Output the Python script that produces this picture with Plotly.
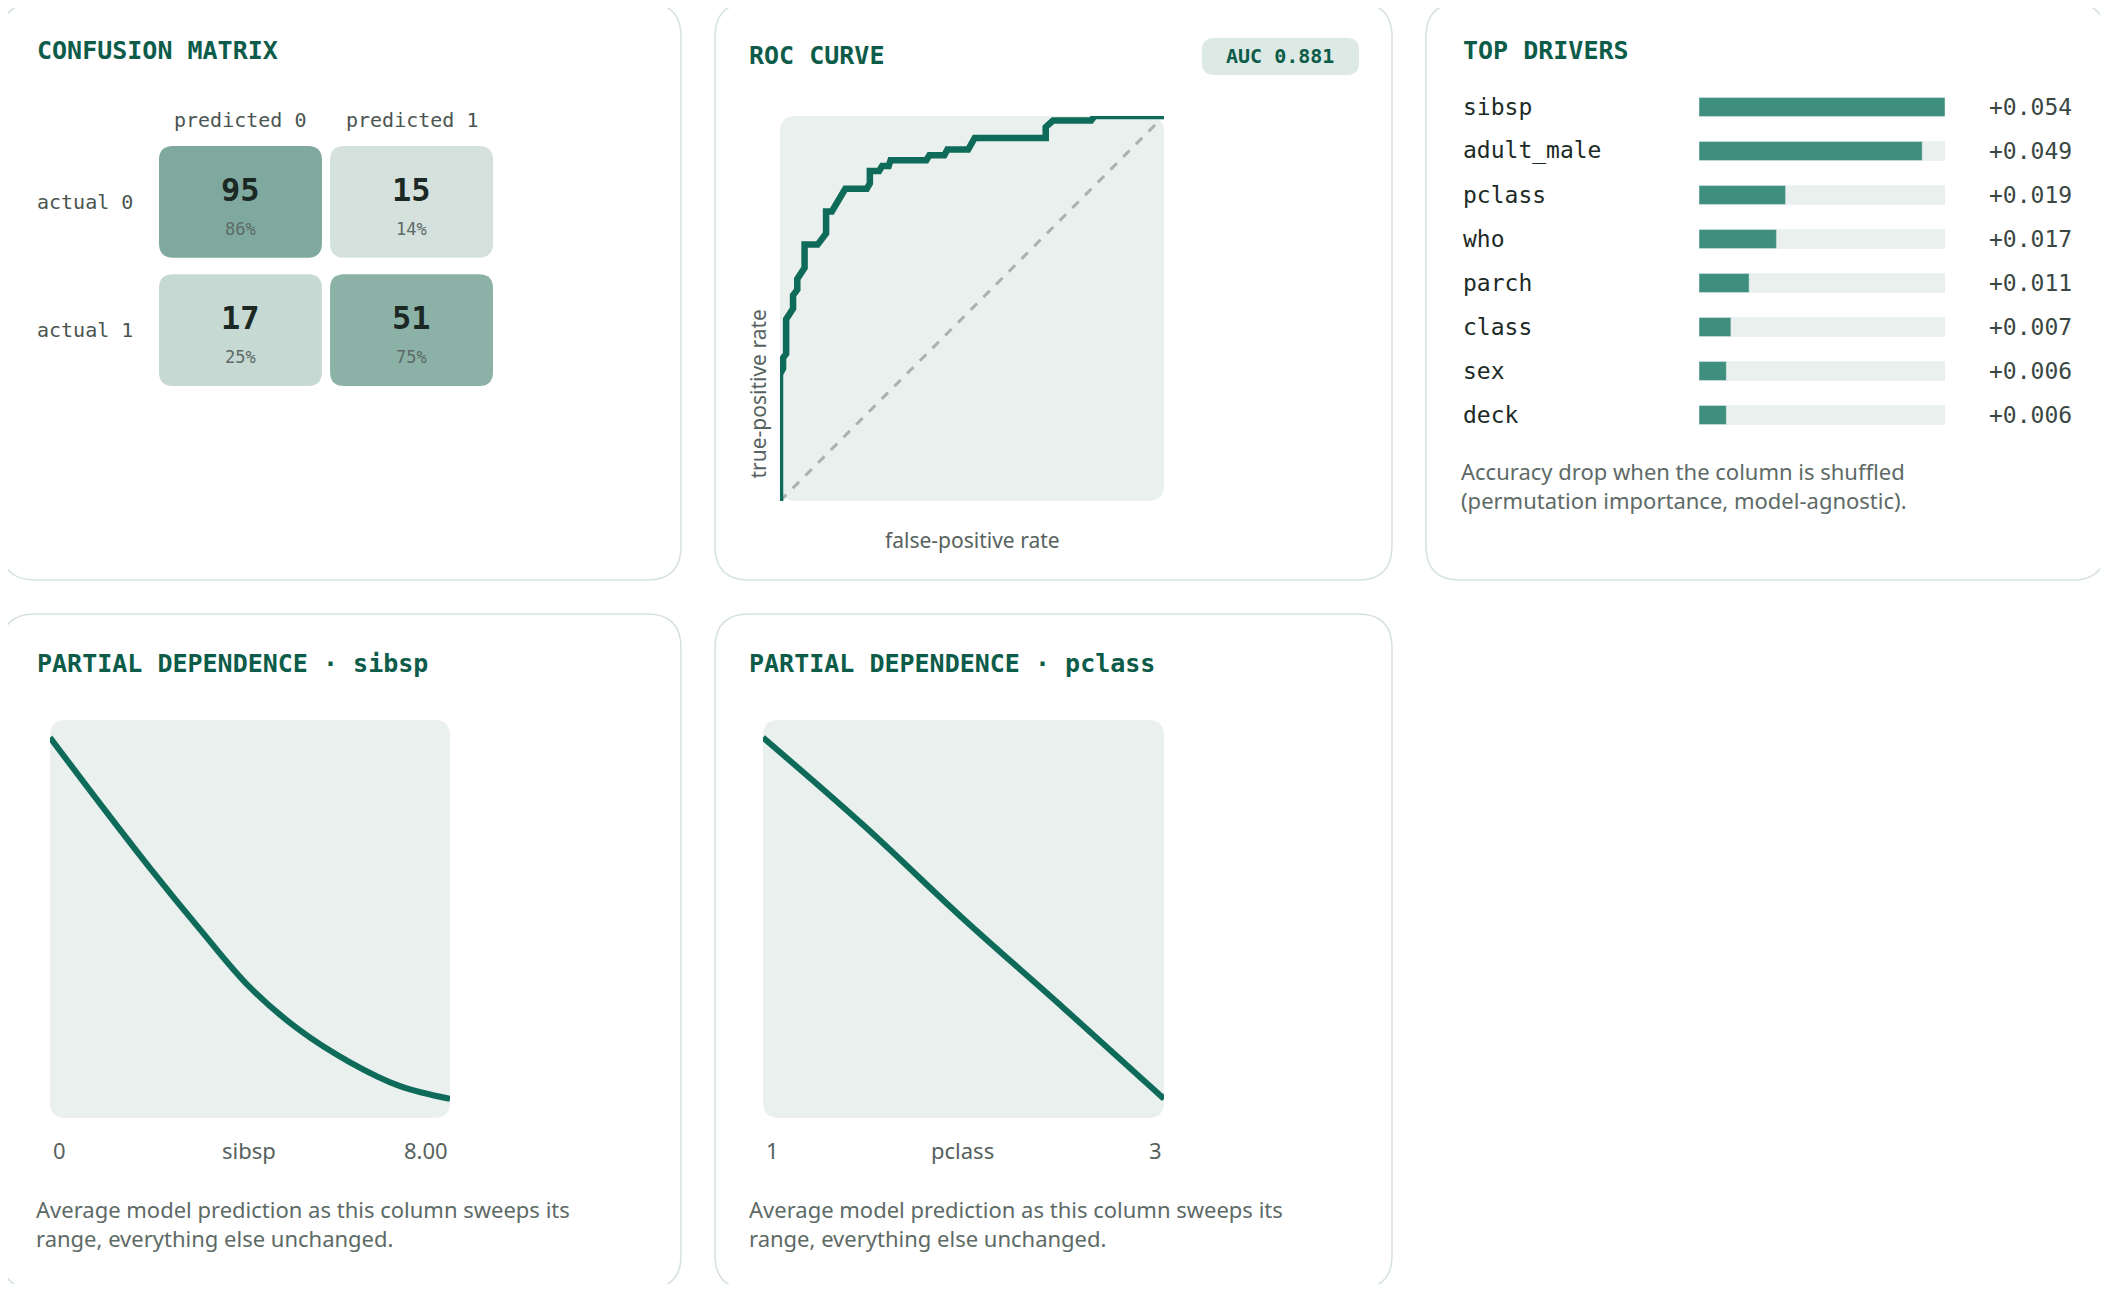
import plotly.graph_objects as go

W, H = 2108, 1292
OFF = 8  # page body margin
FW, FH = W - 2 * OFF, H - 2 * OFF

# ---- data ----
cm_rows = ["actual 0", "actual 1"]
cm_cols = ["predicted 0", "predicted 1"]
cm_counts = [[95, 15], [17, 51]]

roc_fpr = [0, 0, 0.008, 0.008, 0.016, 0.016, 0.034, 0.034, 0.045, 0.045, 0.064, 0.064,
           0.098, 0.12, 0.12, 0.135, 0.17, 0.226, 0.234, 0.234, 0.258, 0.266, 0.283,
           0.288, 0.381, 0.389, 0.428, 0.436, 0.49, 0.507, 0.692, 0.692, 0.711, 0.81,
           0.819, 1.0]
roc_tpr = [0, 0.329, 0.344, 0.372, 0.382, 0.472, 0.5, 0.534, 0.549, 0.577, 0.606, 0.666,
           0.666, 0.695, 0.752, 0.752, 0.811, 0.811, 0.825, 0.857, 0.857, 0.870, 0.870,
           0.885, 0.885, 0.898, 0.898, 0.913, 0.913, 0.943, 0.943, 0.971, 0.988, 0.988,
           1.0, 1.0]
auc = 0.881

drivers = ["sibsp", "adult_male", "pclass", "who", "parch", "class", "sex", "deck"]
importance = [0.054, 0.049, 0.019, 0.017, 0.011, 0.007, 0.006, 0.006]

pd_sibsp_x = [0, 1, 2, 3, 4, 5, 6, 7, 8]
pd_sibsp_y = [0.578, 0.495, 0.414, 0.337, 0.264, 0.210, 0.170, 0.140, 0.124]
pd_pclass_x = [1, 1.5, 2, 2.5, 3]
pd_pclass_y = [0.578, 0.468, 0.350, 0.238, 0.124]

# ---- style ----
TEAL = "#0e6b5a"
TITLE_C = "#0d5c4a"
BAR_C = "#3f8f7e"
PANEL = "#eaf0ed"
MUTED = "#56625e"
MONO = "DejaVu Sans Mono"
SANS = "Noto Sans"


def X(px):
    return (px - OFF) / FW


def Y(py):
    return 1 - (py - OFF) / FH


def rpath(x0, x1, y0, y1, rx, ry):
    # rounded rectangle, y0 < y1 in the given units
    return (f"M{x0+rx},{y0} L{x1-rx},{y0} Q{x1},{y0} {x1},{y0+ry} "
            f"L{x1},{y1-ry} Q{x1},{y1} {x1-rx},{y1} L{x0+rx},{y1} "
            f"Q{x0},{y1} {x0},{y1-ry} L{x0},{y0+ry} Q{x0},{y0} {x0+rx},{y0} Z")


def paper_rect(l, t, r, b, rad, fill, line=None):
    return dict(type="path", xref="paper", yref="paper", layer="below",
                path=rpath(X(l), X(r), Y(b), Y(t), rad / FW, rad / FH),
                fillcolor=fill, line=dict(color=line or fill, width=1.5 if line else 0))


fig = go.Figure()
shapes = []
ann = []


def text(x, y, s, size, color, font=SANS, xanchor="left", **kw):
    ann.append(dict(xref="paper", yref="paper", x=X(x), y=Y(y), text=s, showarrow=False,
                    xanchor=xanchor, yanchor="middle",
                    font=dict(family=font, size=size, color=color), **kw))


# cards
for l, t, r, b in [(1, 3, 681, 580), (715, 3, 1392, 580), (1426, 3, 2106, 580),
                   (1, 614, 681, 1289), (715, 614, 1392, 1289)]:
    shapes.append(paper_rect(l, t, r, b, 34, "white", "#d6e2de"))

# plot panels
shapes.append(paper_rect(780, 116, 1164, 501, 16, PANEL))
shapes.append(paper_rect(50, 720, 450, 1118, 16, PANEL))
shapes.append(paper_rect(763, 720, 1164, 1118, 16, PANEL))

# titles
TS = 25
text(35, 51, "<b>CONFUSION MATRIX</b>", TS, TITLE_C, MONO)
text(747, 55, "<b>ROC CURVE</b>", TS, TITLE_C, MONO)
text(1461, 51, "<b>TOP DRIVERS</b>", TS, TITLE_C, MONO)
text(35, 663, "<b>PARTIAL DEPENDENCE · sibsp</b>", TS, TITLE_C, MONO)
text(747, 663, "<b>PARTIAL DEPENDENCE · pclass</b>", TS, TITLE_C, MONO)


# ---- confusion matrix (axis x / y) ----
def lerp_col(t):
    a, b = (228, 236, 233), (127, 169, 158)
    return "rgb(%d,%d,%d)" % tuple(round(a[i] + (b[i] - a[i]) * t) for i in range(3))


STEP_X, STEP_Y = 1.05, 1.15
rx, ry = 14 / 163, 14 / 111.6
for i, row in enumerate(cm_counts):
    tot = sum(row)
    for j, v in enumerate(row):
        share = v / tot
        x0, y0 = j * STEP_X, i * STEP_Y
        shapes.append(dict(type="path", xref="x", yref="y", layer="below",
                           path=rpath(x0, x0 + 1, y0, y0 + 1, rx, ry),
                           fillcolor=lerp_col(share / 0.86), line=dict(width=0)))
        ann.append(dict(xref="x", yref="y", x=x0 + 0.5, y=y0 + 0.5, text=f"<b>{v}</b>",
                        showarrow=False, yshift=12,
                        font=dict(family=MONO, size=32, color="#1b2824")))
        ann.append(dict(xref="x", yref="y", x=x0 + 0.5, y=y0 + 0.5, text=f"{share:.0%}",
                        showarrow=False, yshift=-27,
                        font=dict(family=MONO, size=17, color="#5d6a66")))
for j, c in enumerate(cm_cols):
    ann.append(dict(xref="x", yref="paper", x=j * STEP_X + 0.5, y=Y(106), text=c,
                    showarrow=False, font=dict(family=MONO, size=20, color="#4a5551")))
for i, r in enumerate(cm_rows):
    ann.append(dict(xref="paper", yref="y", x=X(35), y=i * STEP_Y + 0.5, text=r,
                    xanchor="left", showarrow=False,
                    font=dict(family=MONO, size=20, color="#4a5551")))
fig.add_trace(go.Scatter(x=[0, 2.05], y=[0, 2.15], mode="markers",
                         marker=dict(opacity=0), hoverinfo="skip", xaxis="x", yaxis="y"))

# ---- ROC (x2 / y2) ----
fig.add_trace(go.Scatter(x=[0, 1], y=[0, 1], mode="lines", xaxis="x2", yaxis="y2",
                         line=dict(color="#aab1ae", width=3, dash="dash")))
fig.add_trace(go.Scatter(x=roc_fpr, y=roc_tpr, mode="lines", xaxis="x2", yaxis="y2",
                         line=dict(color=TEAL, width=6.5)))
shapes.append(paper_rect(1202, 38, 1359, 75, 12, "#dce9e4"))
text(1280, 56, f"<b>AUC {auc:.3f}</b>", 20, TITLE_C, MONO, xanchor="center")
text(972, 540, "false-positive rate", 21, MUTED, xanchor="center")
ann.append(dict(xref="paper", yref="paper", x=X(757), y=Y(308), text="true-positive rate",
                textangle=-90, showarrow=False,
                font=dict(family=SANS, size=21, color=MUTED)))

# ---- drivers (x3 / y3) ----
top = max(importance)
fig.add_trace(go.Bar(y=drivers, x=[top] * len(drivers), orientation="h", xaxis="x3",
                     yaxis="y3", marker=dict(color=PANEL), width=0.43, hoverinfo="skip"))
fig.add_trace(go.Bar(y=drivers, x=importance, orientation="h", xaxis="x3", yaxis="y3",
                     marker=dict(color=BAR_C), width=0.43))
for d, v in zip(drivers, importance):
    ann.append(dict(xref="paper", yref="y3", x=X(1461), y=d, text=d, xanchor="left",
                    showarrow=False, font=dict(family=MONO, size=23, color="#1c2a26")))
    ann.append(dict(xref="paper", yref="y3", x=X(2074), y=d, text=f"+{v:.3f}",
                    xanchor="right", showarrow=False,
                    font=dict(family=MONO, size=23, color="#3a4743")))
ann.append(dict(xref="paper", yref="paper", x=X(1459), y=Y(454), xanchor="left",
                yanchor="top", align="left", showarrow=False,
                text="Accuracy drop when the column is shuffled<br>"
                     "(permutation importance, model-agnostic).",
                font=dict(family=SANS, size=22, color="#5d6a66")))

# ---- partial dependence (x4/y4, x5/y5) ----
fig.add_trace(go.Scatter(x=pd_sibsp_x, y=pd_sibsp_y, mode="lines", xaxis="x4", yaxis="y4",
                         line=dict(color=TEAL, width=6, shape="spline")))
fig.add_trace(go.Scatter(x=pd_pclass_x, y=pd_pclass_y, mode="lines", xaxis="x5",
                         yaxis="y5", line=dict(color=TEAL, width=6, shape="spline")))
note = "Average model prediction as this column sweeps its<br>range, everything else unchanged."
for (l, r), lo, hi, name in [((50, 450), "0", "8.00", "sibsp"),
                             ((763, 1164), "1", "3", "pclass")]:
    text(l + 1, 1150, lo, 22, MUTED)
    text(r, 1150, hi, 22, MUTED, xanchor="right")
    text((l + r) / 2 - 1, 1150, name, 22, MUTED, xanchor="center")
    ann.append(dict(xref="paper", yref="paper", x=X(l - 16), y=Y(1192), xanchor="left",
                    yanchor="top", align="left", showarrow=False, text=note,
                    font=dict(family=SANS, size=22, color="#5d6a66")))

hidden = dict(showgrid=False, zeroline=False, showticklabels=False, showline=False,
              ticks="", fixedrange=True)
fig.update_layout(
    width=FW, height=FH, margin=dict(l=0, r=0, t=0, b=0),
    paper_bgcolor="white", plot_bgcolor="rgba(0,0,0,0)",
    showlegend=False, barmode="overlay",
    xaxis=dict(domain=[X(159), X(493)], range=[0, 2.05], **hidden),
    yaxis=dict(domain=[Y(386), Y(146)], range=[2.15, 0], **hidden),
    xaxis2=dict(domain=[X(780), X(1164)], range=[0, 1], **hidden),
    yaxis2=dict(domain=[Y(501), Y(116)], range=[0, 1], **hidden),
    xaxis3=dict(domain=[X(1699), X(1945)], range=[0, top], **hidden),
    yaxis3=dict(domain=[Y(437), Y(85)], range=[7.5, -0.5], type="category", **hidden),
    xaxis4=dict(domain=[X(50), X(450)], range=[0, 8], **hidden),
    yaxis4=dict(domain=[Y(1118), Y(720)], range=[0.1, 0.6], **hidden),
    xaxis5=dict(domain=[X(763), X(1164)], range=[1, 3], **hidden),
    yaxis5=dict(domain=[Y(1118), Y(720)], range=[0.1, 0.6], **hidden),
    shapes=shapes, annotations=ann,
)

fig.write_html("out.html", config=dict(displayModeBar=False))
